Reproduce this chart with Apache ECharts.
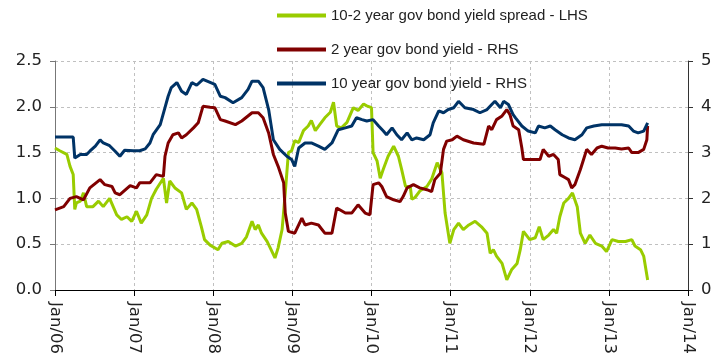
<!DOCTYPE html>
<html>
<head>
<meta charset="utf-8">
<script src="https://cdn.jsdelivr.net/npm/echarts@6/dist/echarts.min.js"></script>
<style>
  html, body { margin: 0; padding: 0; background: #fff; }
  #chart { width: 723px; height: 363px; }
</style>
</head>
<body>
<div id="chart"></div>
<script>
// time is in years since Jan 2006
var spreadT = [0.00,0.06,0.15,0.19,0.23,0.25,0.27,0.32,0.36,0.40,0.48,0.55,0.61,0.69,0.78,0.84,0.91,0.97,1.03,1.09,1.16,1.22,1.28,1.37,1.41,1.45,1.52,1.60,1.66,1.73,1.79,1.85,1.89,1.96,
  2.06,2.11,2.19,2.28,2.36,2.42,2.49,2.53,2.57,2.61,2.68,2.72,2.78,2.82,2.87,2.91,2.95,2.99,3.03,3.08,3.14,3.20,3.24,3.29,3.35,3.41,3.48,3.52,3.56,3.62,3.69,3.77,3.83,3.90,3.94,4.00,
  4.02,4.07,4.11,4.15,4.21,4.28,4.34,4.38,4.43,4.49,4.51,4.55,4.61,4.70,4.76,4.83,4.89,4.93,4.99,5.04,5.10,5.16,5.23,5.31,5.39,5.46,5.50,5.54,5.58,5.65,5.71,5.77,5.84,5.88,
  5.92,6.00,6.07,6.12,6.17,6.24,6.30,6.34,6.38,6.43,6.49,6.54,6.60,6.64,6.70,6.76,6.83,6.91,6.97,7.04,7.12,7.21,7.29,7.33,7.40,7.44,7.49];
var spreadVals = [1.55,1.52,1.48,1.35,1.26,0.88,0.95,0.97,1.06,0.91,0.91,0.97,0.91,1.00,0.82,0.77,0.80,0.75,0.86,0.73,0.82,1.00,1.10,1.22,0.95,1.19,1.11,1.06,0.88,0.95,0.88,0.69,0.55,0.49,
  0.44,0.51,0.53,0.48,0.51,0.58,0.75,0.66,0.71,0.62,0.53,0.46,0.35,0.46,0.66,1.06,1.50,1.52,1.63,1.61,1.74,1.79,1.85,1.74,1.81,1.88,1.94,2.05,1.79,1.77,1.83,1.99,1.96,2.03,2.01,1.99,
  1.50,1.41,1.22,1.32,1.46,1.57,1.46,1.32,1.13,1.13,0.99,1.01,1.08,1.13,1.21,1.39,1.28,0.84,0.51,0.66,0.73,0.66,0.71,0.75,0.69,0.62,0.40,0.44,0.37,0.29,0.11,0.22,0.29,0.44,
  0.64,0.55,0.57,0.69,0.55,0.60,0.66,0.62,0.80,0.95,1.00,1.06,0.91,0.62,0.51,0.60,0.51,0.48,0.42,0.55,0.53,0.53,0.55,0.48,0.44,0.37,0.11];

var twoYearT = [0.00,0.11,0.19,0.27,0.36,0.44,0.57,0.63,0.72,0.76,0.82,0.95,1.03,1.07,1.20,1.28,1.37,1.39,1.43,1.49,1.56,1.60,1.66,1.75,1.81,1.87,1.96,
  2.02,2.09,2.15,2.28,2.36,2.49,2.57,2.63,2.70,2.76,2.82,2.89,2.91,2.95,3.03,3.12,3.16,3.24,3.33,3.41,3.50,3.56,3.67,3.75,3.83,3.92,3.98,
  4.02,4.09,4.13,4.19,4.28,4.36,4.40,4.45,4.53,4.61,4.70,4.76,4.80,4.87,4.91,4.95,5.02,5.08,5.16,5.29,5.42,5.48,5.52,5.58,5.65,5.71,5.75,5.79,5.86,5.90,
  5.92,6.13,6.17,6.24,6.30,6.36,6.38,6.45,6.49,6.53,6.57,6.64,6.68,6.72,6.78,6.85,6.91,6.99,7.08,7.16,7.25,7.29,7.37,7.44,7.48,7.49];
var twoYearVals = [1.75,1.82,2.00,2.04,1.97,2.23,2.41,2.30,2.26,2.12,2.08,2.28,2.23,2.34,2.34,2.52,2.48,2.92,3.21,3.39,3.43,3.32,3.39,3.54,3.65,4.01,3.99,
  3.98,3.72,3.69,3.61,3.69,3.87,3.87,3.76,3.43,2.96,2.70,2.34,1.68,1.28,1.24,1.57,1.42,1.46,1.42,1.24,1.24,1.79,1.68,1.68,1.86,1.68,1.64,
  2.30,2.34,2.26,2.04,1.97,1.93,2.04,2.23,2.30,2.23,2.19,2.15,2.41,2.55,3.07,3.25,3.28,3.36,3.28,3.21,3.18,3.58,3.50,3.72,3.80,3.94,3.83,3.58,3.50,3.10,
  2.85,2.85,3.07,2.92,2.96,2.85,2.52,2.45,2.41,2.23,2.30,2.63,2.85,3.07,2.96,3.10,3.14,3.10,3.10,3.08,3.10,3.00,3.00,3.07,3.28,3.58];

var tenYearT = [0.00,0.23,0.25,0.32,0.40,0.44,0.51,0.57,0.61,0.69,0.76,0.82,0.88,0.99,1.07,1.14,1.20,1.24,1.33,1.39,1.43,1.47,1.54,1.60,1.66,1.73,1.79,1.87,
  2.02,2.09,2.15,2.25,2.36,2.44,2.49,2.57,2.63,2.70,2.76,2.84,2.93,2.99,3.03,3.08,3.16,3.24,3.33,3.41,3.50,3.58,3.67,3.75,3.81,3.88,3.94,
  4.02,4.09,4.15,4.19,4.26,4.32,4.38,4.45,4.51,4.57,4.66,4.74,4.78,4.85,4.91,4.97,5.04,5.10,5.18,5.29,5.37,5.46,5.52,5.56,5.63,5.67,5.73,5.79,
  5.82,5.90,5.98,6.07,6.11,6.19,6.26,6.32,6.41,6.49,6.57,6.66,6.72,6.81,6.91,7.08,7.16,7.25,7.31,7.37,7.44,7.49];
var tenYearVals = [3.34,3.34,2.88,2.96,2.96,3.03,3.14,3.28,3.21,3.15,3.03,2.92,3.05,3.04,3.04,3.08,3.21,3.39,3.61,3.98,4.23,4.42,4.53,4.34,4.27,4.53,4.47,4.60,
  4.49,4.23,4.20,4.09,4.20,4.38,4.56,4.56,4.42,3.94,3.28,3.07,2.92,2.85,2.70,3.10,3.21,3.21,3.14,3.07,3.21,3.50,3.54,3.58,3.76,3.72,3.69,
  3.72,3.58,3.47,3.39,3.54,3.39,3.28,3.43,3.28,3.32,3.28,3.39,3.65,3.91,3.87,3.94,3.98,4.12,3.98,3.94,3.87,3.94,4.05,4.12,3.98,4.12,4.05,3.83,
  3.76,3.58,3.47,3.43,3.58,3.54,3.58,3.50,3.39,3.32,3.28,3.39,3.54,3.58,3.61,3.61,3.61,3.58,3.47,3.43,3.47,3.65];

var yearTicks = ['Jan/06','Jan/07','Jan/08','Jan/09','Jan/10','Jan/11','Jan/12','Jan/13','Jan/14'];

function pairs(t, v) {
  return t.map(function (x, i) { return [2006 + x, v[i]]; });
}

var dom = document.getElementById('chart');
var myChart = echarts.init(dom, null, { renderer: 'canvas' });

var axisFont = { fontFamily: 'DejaVu Sans, sans-serif', fontSize: 16.5, color: '#222' };
var gridLine = { show: true, lineStyle: { color: '#c0c0c0', type: [3, 3], width: 1 } };

var option = {
  animation: false,
  backgroundColor: '#fff',
  legend: {
    orient: 'vertical',
    left: 272,
    top: 3,
    itemGap: 19,
    itemWidth: 49,
    itemHeight: 4,
    icon: 'rect',
    textStyle: { fontFamily: 'Liberation Sans, Arial, sans-serif', fontSize: 15, color: '#222' },
    data: ['10-2 year gov bond yield spread - LHS', '2 year gov bond yield - RHS', '10 year gov bond yield - RHS']
  },
  grid: { left: 55, right: 35, top: 61, bottom: 73 },
  xAxis: {
    type: 'value',
    min: 2006,
    max: 2014,
    interval: 1,
    axisLine: { show: true, onZero: false, lineStyle: { color: '#000', width: 1 } },
    axisTick: { show: true, length: 6, lineStyle: { color: '#000' } },
    axisLabel: Object.assign({
      rotate: -90,
      margin: 12,
      formatter: function (v) { return yearTicks[Math.round(v - 2006)]; }
    }, axisFont),
    splitLine: gridLine
  },
  yAxis: [
    {
      type: 'value',
      min: 0,
      max: 2.5,
      interval: 0.5,
      axisLine: { show: true, lineStyle: { color: '#777', width: 1 } },
      axisTick: { show: true, length: 5, lineStyle: { color: '#777' } },
      axisLabel: Object.assign({ margin: 13, formatter: function (v) { return v.toFixed(1); } }, axisFont),
      splitLine: gridLine
    },
    {
      type: 'value',
      min: 0,
      max: 5,
      interval: 1,
      position: 'right',
      axisLine: { show: true, lineStyle: { color: '#333', width: 1 } },
      axisTick: { show: true, length: 5, lineStyle: { color: '#333' } },
      axisLabel: Object.assign({ margin: 13 }, axisFont),
      splitLine: { show: false }
    }
  ],
  series: [
    {
      name: '10-2 year gov bond yield spread - LHS',
      type: 'line',
      yAxisIndex: 0,
      showSymbol: false,
      data: pairs(spreadT, spreadVals),
      lineStyle: { color: '#99cc00', width: 3 },
      itemStyle: { color: '#99cc00' }
    },
    {
      name: '2 year gov bond yield - RHS',
      type: 'line',
      yAxisIndex: 1,
      showSymbol: false,
      data: pairs(twoYearT, twoYearVals),
      lineStyle: { color: '#800000', width: 3 },
      itemStyle: { color: '#800000' }
    },
    {
      name: '10 year gov bond yield - RHS',
      type: 'line',
      yAxisIndex: 1,
      showSymbol: false,
      data: pairs(tenYearT, tenYearVals),
      lineStyle: { color: '#003366', width: 3 },
      itemStyle: { color: '#003366' }
    }
  ]
};

myChart.setOption(option);
</script>
</body>
</html>
